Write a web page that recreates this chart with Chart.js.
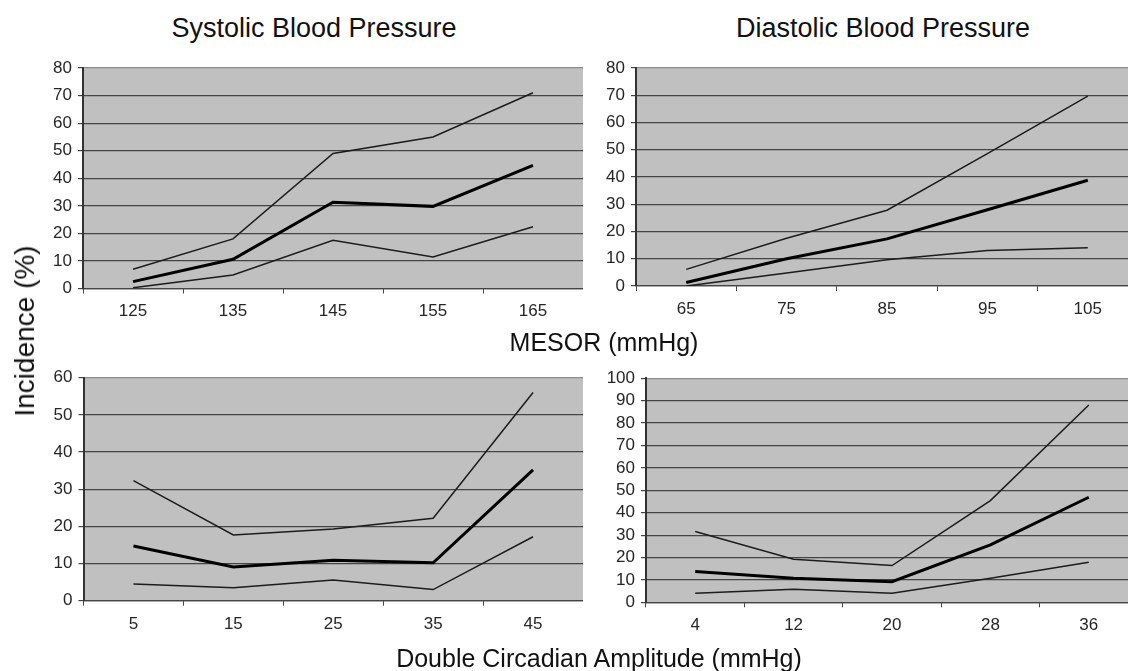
<!DOCTYPE html>
<html>
<head>
<meta charset="utf-8">
<script src="https://cdn.jsdelivr.net/npm/chart.js@4"></script>
<style>
  html, body { margin: 0; padding: 0; background: #fff; overflow: hidden; }
  #page { position: relative; width: 1128px; height: 671px; overflow: hidden; background: #fff; }
  canvas { position: absolute; }
  .lbl { position: absolute; transform: translate(-50%, -50%); white-space: nowrap; line-height: 1;
         font-family: 'Liberation Sans', Arial, sans-serif; color: #111; z-index: 2; }
</style>
</head>
<body>
<div id="page">
  <canvas id="sys" width="583" height="280" style="left:0px;top:50px"></canvas>
  <canvas id="dia" width="578" height="280" style="left:560px;top:50px"></canvas>
  <canvas id="ampSys" width="583" height="290" style="left:0px;top:360px"></canvas>
  <canvas id="ampDia" width="578" height="290" style="left:560px;top:360px"></canvas>

  <div class="lbl" style="left:314px;top:28px;font-size:27px">Systolic Blood Pressure</div>
  <div class="lbl" style="left:883px;top:28px;font-size:27px">Diastolic Blood Pressure</div>
  <div class="lbl" style="left:604px;top:342px;font-size:25px">MESOR (mmHg)</div>
  <div class="lbl" style="left:599px;top:658px;font-size:25px">Double Circadian Amplitude (mmHg)</div>
  <div class="lbl" style="left:25px;top:331px;font-size:28px;transform:translate(-50%,-50%) rotate(-90deg)">Incidence (%)</div>
</div>
<script>
// categories (x tick labels)
const sysMesor = ['125', '135', '145', '155', '165'];
const diaMesor = ['65', '75', '85', '95', '105'];
const sysAmp = ['5', '15', '25', '35', '45'];
const diaAmp = ['4', '12', '20', '28', '36'];

// incidence (%) - upper limit, estimate, lower limit
const sysUpper = [7, 18, 49, 55, 71];
const sysMid = [2.5, 10.6, 31.3, 29.8, 44.7];
const sysLower = [0.3, 4.9, 17.5, 11.4, 22.4];

const diaUpper = [6.1, 17.5, 27.8, 48.6, 69.7];
const diaMid = [1.3, 10, 17.3, 28, 38.8];
const diaLower = [0, 4.8, 9.6, 13, 14];

const ampSysUpper = [32.3, 17.7, 19.3, 22.2, 56];
const ampSysMid = [14.7, 9.1, 10.9, 10.2, 35.2];
const ampSysLower = [4.5, 3.5, 5.6, 3.0, 17.2];

const ampDiaUpper = [31.6, 19.2, 16.4, 45.4, 88.1];
const ampDiaMid = [13.7, 10.7, 9.2, 25.6, 46.9];
const ampDiaLower = [4.0, 5.8, 4.0, 10.7, 17.9];

const FONT = "'Liberation Sans', Arial, sans-serif";

// grey plot background like the old spreadsheet charts
const plotBg = {
  id: 'plotBg',
  beforeDraw(chart) {
    const { ctx, chartArea: a } = chart;
    ctx.save();
    ctx.fillStyle = '#c0c0c0';
    ctx.fillRect(a.left, a.top, a.right - a.left, a.bottom - a.top);
    ctx.restore();
  }
};

function makeChart(id, labels, upper, mid, lower, yMax, box) {
  const thin = { borderColor: '#1c1c1c', borderWidth: 1.5 };
  return new Chart(document.getElementById(id), {
    type: 'line',
    data: {
      labels: labels,
      datasets: [
        { label: 'upper', data: upper, ...thin },
        { label: 'incidence', data: mid, borderColor: '#000', borderWidth: 3 },
        { label: 'lower', data: lower, ...thin }
      ]
    },
    options: {
      responsive: false,
      animation: false,
      layout: { padding: { top: box.padTop, left: 0, right: 0, bottom: 0 } },
      elements: { point: { radius: 0 }, line: { tension: 0, fill: false } },
      plugins: { legend: { display: false }, tooltip: { enabled: false } },
      scales: {
        x: {
          type: 'category',
          offset: true,
          grid: { offset: true, drawOnChartArea: false, drawTicks: true, tickLength: 5, color: '#444' },
          border: { display: true, color: '#444', width: 1.2 },
          ticks: { color: '#262626', padding: 8, font: { family: FONT, size: 17 }, maxRotation: 0, autoSkip: false },
          afterFit: s => { s.height = box.xH; }
        },
        y: {
          min: 0,
          max: yMax,
          ticks: { stepSize: 10, autoSkip: false, color: '#262626', padding: 6, font: { family: FONT, size: 17 } },
          grid: {
            color: c => (c.tick && c.tick.value === yMax ? '#8c8c8c' : '#444'),
            lineWidth: 1.2,
            tickLength: 5,
            tickColor: '#444'
          },
          border: { display: true, color: '#333', width: 2 },
          afterFit: s => { s.width = box.yW; }
        }
      }
    },
    plugins: [plotBg]
  });
}

makeChart('sys', sysMesor, sysUpper, sysMid, sysLower, 80, { padTop: 18, yW: 83, xH: 41.5 });
makeChart('dia', diaMesor, diaUpper, diaMid, diaLower, 80, { padTop: 18, yW: 76, xH: 44 });
makeChart('ampSys', sysAmp, ampSysUpper, ampSysMid, ampSysLower, 60, { padTop: 17.7, yW: 83.5, xH: 49.3 });
makeChart('ampDia', diaAmp, ampDiaUpper, ampDiaMid, ampDiaLower, 100, { padTop: 18.3, yW: 86, xH: 47.7 });
</script>
</body>
</html>
